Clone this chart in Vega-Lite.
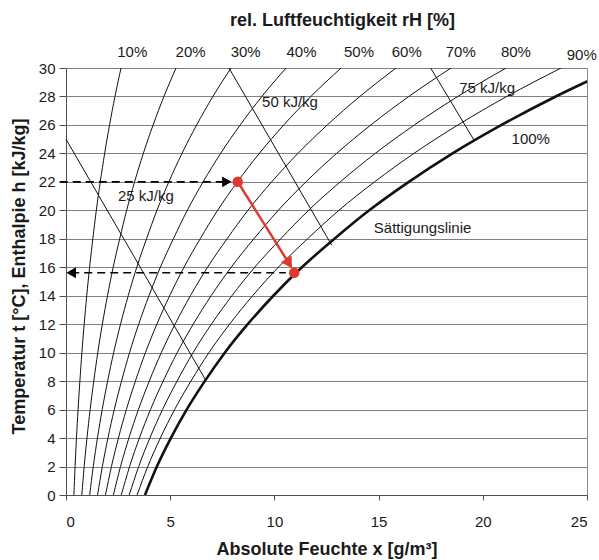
{
  "$schema": "https://vega.github.io/schema/vega-lite/v6.json",
  "width": 521,
  "height": 427,
  "autosize": {"type": "none"},
  "padding": {"left": 66, "top": 68, "right": 12, "bottom": 65},
  "background": "white",
  "title": {
    "text": "rel. Luftfeuchtigkeit rH [%]",
    "font": "Liberation Sans",
    "fontSize": 18,
    "fontWeight": "bold",
    "color": "#1a1a1a",
    "anchor": "middle",
    "frame": "group",
    "baseline": "alphabetic",
    "offset": 1,
    "dx": 16
  },
  "datasets": {
    "rh": [
      {"rh": "10%", "t": 0, "x": 0.379}, {"rh": "10%", "t": 2, "x": 0.436}, {"rh": "10%", "t": 4, "x": 0.503}, {"rh": "10%", "t": 6, "x": 0.579},
      {"rh": "10%", "t": 8, "x": 0.666}, {"rh": "10%", "t": 10, "x": 0.762}, {"rh": "10%", "t": 12, "x": 0.872}, {"rh": "10%", "t": 14, "x": 0.995},
      {"rh": "10%", "t": 16, "x": 1.132}, {"rh": "10%", "t": 18, "x": 1.288}, {"rh": "10%", "t": 20, "x": 1.455}, {"rh": "10%", "t": 22, "x": 1.645},
      {"rh": "10%", "t": 24, "x": 1.855}, {"rh": "10%", "t": 26, "x": 2.09}, {"rh": "10%", "t": 28, "x": 2.35}, {"rh": "10%", "t": 30, "x": 2.64},

      {"rh": "20%", "t": 0, "x": 0.758}, {"rh": "20%", "t": 2, "x": 0.872}, {"rh": "20%", "t": 4, "x": 1.006}, {"rh": "20%", "t": 6, "x": 1.158},
      {"rh": "20%", "t": 8, "x": 1.332}, {"rh": "20%", "t": 10, "x": 1.524}, {"rh": "20%", "t": 12, "x": 1.744}, {"rh": "20%", "t": 14, "x": 1.99},
      {"rh": "20%", "t": 16, "x": 2.264}, {"rh": "20%", "t": 18, "x": 2.576}, {"rh": "20%", "t": 20, "x": 2.91}, {"rh": "20%", "t": 22, "x": 3.29},
      {"rh": "20%", "t": 24, "x": 3.71}, {"rh": "20%", "t": 26, "x": 4.18}, {"rh": "20%", "t": 28, "x": 4.7}, {"rh": "20%", "t": 30, "x": 5.28},

      {"rh": "30%", "t": 0, "x": 1.137}, {"rh": "30%", "t": 2, "x": 1.308}, {"rh": "30%", "t": 4, "x": 1.509}, {"rh": "30%", "t": 6, "x": 1.737},
      {"rh": "30%", "t": 8, "x": 1.998}, {"rh": "30%", "t": 10, "x": 2.286}, {"rh": "30%", "t": 12, "x": 2.616}, {"rh": "30%", "t": 14, "x": 2.985},
      {"rh": "30%", "t": 16, "x": 3.396}, {"rh": "30%", "t": 18, "x": 3.864}, {"rh": "30%", "t": 20, "x": 4.365}, {"rh": "30%", "t": 22, "x": 4.935},
      {"rh": "30%", "t": 24, "x": 5.565}, {"rh": "30%", "t": 26, "x": 6.27}, {"rh": "30%", "t": 28, "x": 7.05}, {"rh": "30%", "t": 30, "x": 7.92},

      {"rh": "40%", "t": 0, "x": 1.516}, {"rh": "40%", "t": 2, "x": 1.744}, {"rh": "40%", "t": 4, "x": 2.012}, {"rh": "40%", "t": 6, "x": 2.316},
      {"rh": "40%", "t": 8, "x": 2.664}, {"rh": "40%", "t": 10, "x": 3.048}, {"rh": "40%", "t": 12, "x": 3.488}, {"rh": "40%", "t": 14, "x": 3.98},
      {"rh": "40%", "t": 16, "x": 4.528}, {"rh": "40%", "t": 18, "x": 5.152}, {"rh": "40%", "t": 20, "x": 5.82}, {"rh": "40%", "t": 22, "x": 6.58},
      {"rh": "40%", "t": 24, "x": 7.42}, {"rh": "40%", "t": 26, "x": 8.36}, {"rh": "40%", "t": 28, "x": 9.4}, {"rh": "40%", "t": 30, "x": 10.56},

      {"rh": "50%", "t": 0, "x": 1.895}, {"rh": "50%", "t": 2, "x": 2.18}, {"rh": "50%", "t": 4, "x": 2.515}, {"rh": "50%", "t": 6, "x": 2.895},
      {"rh": "50%", "t": 8, "x": 3.33}, {"rh": "50%", "t": 10, "x": 3.81}, {"rh": "50%", "t": 12, "x": 4.36}, {"rh": "50%", "t": 14, "x": 4.975},
      {"rh": "50%", "t": 16, "x": 5.66}, {"rh": "50%", "t": 18, "x": 6.44}, {"rh": "50%", "t": 20, "x": 7.275}, {"rh": "50%", "t": 22, "x": 8.225},
      {"rh": "50%", "t": 24, "x": 9.275}, {"rh": "50%", "t": 26, "x": 10.45}, {"rh": "50%", "t": 28, "x": 11.75}, {"rh": "50%", "t": 30, "x": 13.2},

      {"rh": "60%", "t": 0, "x": 2.274}, {"rh": "60%", "t": 2, "x": 2.616}, {"rh": "60%", "t": 4, "x": 3.018}, {"rh": "60%", "t": 6, "x": 3.474},
      {"rh": "60%", "t": 8, "x": 3.996}, {"rh": "60%", "t": 10, "x": 4.572}, {"rh": "60%", "t": 12, "x": 5.232}, {"rh": "60%", "t": 14, "x": 5.97},
      {"rh": "60%", "t": 16, "x": 6.792}, {"rh": "60%", "t": 18, "x": 7.728}, {"rh": "60%", "t": 20, "x": 8.73}, {"rh": "60%", "t": 22, "x": 9.87},
      {"rh": "60%", "t": 24, "x": 11.13}, {"rh": "60%", "t": 26, "x": 12.54}, {"rh": "60%", "t": 28, "x": 14.1}, {"rh": "60%", "t": 30, "x": 15.84},

      {"rh": "70%", "t": 0, "x": 2.653}, {"rh": "70%", "t": 2, "x": 3.052}, {"rh": "70%", "t": 4, "x": 3.521}, {"rh": "70%", "t": 6, "x": 4.053},
      {"rh": "70%", "t": 8, "x": 4.662}, {"rh": "70%", "t": 10, "x": 5.334}, {"rh": "70%", "t": 12, "x": 6.104}, {"rh": "70%", "t": 14, "x": 6.965},
      {"rh": "70%", "t": 16, "x": 7.924}, {"rh": "70%", "t": 18, "x": 9.016}, {"rh": "70%", "t": 20, "x": 10.185}, {"rh": "70%", "t": 22, "x": 11.515},
      {"rh": "70%", "t": 24, "x": 12.985}, {"rh": "70%", "t": 26, "x": 14.63}, {"rh": "70%", "t": 28, "x": 16.45}, {"rh": "70%", "t": 30, "x": 18.48},

      {"rh": "80%", "t": 0, "x": 3.032}, {"rh": "80%", "t": 2, "x": 3.488}, {"rh": "80%", "t": 4, "x": 4.024}, {"rh": "80%", "t": 6, "x": 4.632},
      {"rh": "80%", "t": 8, "x": 5.328}, {"rh": "80%", "t": 10, "x": 6.096}, {"rh": "80%", "t": 12, "x": 6.976}, {"rh": "80%", "t": 14, "x": 7.96},
      {"rh": "80%", "t": 16, "x": 9.056}, {"rh": "80%", "t": 18, "x": 10.304}, {"rh": "80%", "t": 20, "x": 11.64}, {"rh": "80%", "t": 22, "x": 13.16},
      {"rh": "80%", "t": 24, "x": 14.84}, {"rh": "80%", "t": 26, "x": 16.72}, {"rh": "80%", "t": 28, "x": 18.8}, {"rh": "80%", "t": 30, "x": 21.12},

      {"rh": "90%", "t": 0, "x": 3.411}, {"rh": "90%", "t": 2, "x": 3.924}, {"rh": "90%", "t": 4, "x": 4.527}, {"rh": "90%", "t": 6, "x": 5.211},
      {"rh": "90%", "t": 8, "x": 5.994}, {"rh": "90%", "t": 10, "x": 6.858}, {"rh": "90%", "t": 12, "x": 7.848}, {"rh": "90%", "t": 14, "x": 8.955},
      {"rh": "90%", "t": 16, "x": 10.188}, {"rh": "90%", "t": 18, "x": 11.592}, {"rh": "90%", "t": 20, "x": 13.095}, {"rh": "90%", "t": 22, "x": 14.805},
      {"rh": "90%", "t": 24, "x": 16.695}, {"rh": "90%", "t": 26, "x": 18.81}, {"rh": "90%", "t": 28, "x": 21.15}, {"rh": "90%", "t": 30, "x": 23.76},

      {"rh": "100%", "t": 0, "x": 3.79}, {"rh": "100%", "t": 2, "x": 4.36}, {"rh": "100%", "t": 4, "x": 5.03}, {"rh": "100%", "t": 6, "x": 5.79},
      {"rh": "100%", "t": 8, "x": 6.66}, {"rh": "100%", "t": 10, "x": 7.62}, {"rh": "100%", "t": 12, "x": 8.72}, {"rh": "100%", "t": 14, "x": 9.95},
      {"rh": "100%", "t": 16, "x": 11.32}, {"rh": "100%", "t": 18, "x": 12.88}, {"rh": "100%", "t": 20, "x": 14.55}, {"rh": "100%", "t": 22, "x": 16.45},
      {"rh": "100%", "t": 24, "x": 18.55}, {"rh": "100%", "t": 26, "x": 20.9}, {"rh": "100%", "t": 28, "x": 23.5}, {"rh": "100%", "t": 30, "x": 26.4}
    ],
    "enthalpy": [
      {"h": "25 kJ/kg", "x": 0, "t": 25.0}, {"h": "25 kJ/kg", "x": 6.7, "t": 8.08},
      {"h": "50 kJ/kg", "x": 7.82, "t": 30}, {"h": "50 kJ/kg", "x": 12.75, "t": 17.55},
      {"h": "75 kJ/kg", "x": 17.5, "t": 30}, {"h": "75 kJ/kg", "x": 19.57, "t": 24.95}
    ],
    "guides": [
      {"guide": "Zuluft", "x": -0.3, "t": 22.0}, {"guide": "Zuluft", "x": 7.72, "t": 22.0},
      {"guide": "Taupunkt", "x": 10.55, "t": 15.62}, {"guide": "Taupunkt", "x": 0.25, "t": 15.62}
    ],
    "heads": [
      {"dir": "rechts", "x": 7.72, "t": 22.0},
      {"dir": "links", "x": 0.25, "t": 15.62}
    ],
    "process": [
      {"x": 8.24, "t": 22.0}, {"x": 10.66, "t": 16.37}
    ],
    "processHead": [
      {"x": 10.66, "t": 16.37}
    ],
    "states": [
      {"state": "Ausgangszustand", "x": 8.24, "t": 22.0},
      {"state": "Sättigung", "x": 10.95, "t": 15.62}
    ],
    "labels": [
      {"label": "10%", "x": 3.18, "t": 31.15},
      {"label": "20%", "x": 5.98, "t": 31.15},
      {"label": "30%", "x": 8.62, "t": 31.15},
      {"label": "40%", "x": 11.3, "t": 31.15},
      {"label": "50%", "x": 14.06, "t": 31.15},
      {"label": "60%", "x": 16.35, "t": 31.15},
      {"label": "70%", "x": 18.94, "t": 31.15},
      {"label": "80%", "x": 21.59, "t": 31.15},
      {"label": "90%", "x": 24.75, "t": 30.91},
      {"label": "25 kJ/kg", "x": 3.83, "t": 21.03},
      {"label": "50 kJ/kg", "x": 10.75, "t": 27.59},
      {"label": "75 kJ/kg", "x": 20.21, "t": 28.57},
      {"label": "100%", "x": 22.3, "t": 24.99},
      {"label": "Sättigungslinie", "x": 17.11, "t": 18.78}
    ]
  },
  "config": {
    "font": "Liberation Sans",
    "view": {"stroke": "#8c8c8c", "strokeWidth": 1},
    "axis": {
      "labelFont": "Liberation Sans",
      "titleFont": "Liberation Sans",
      "labelFontSize": 15,
      "labelColor": "#1a1a1a",
      "titleFontSize": 18,
      "titleFontWeight": "bold",
      "titleColor": "#1a1a1a",
      "domainColor": "#505050",
      "tickColor": "#505050"
    }
  },
  "encoding": {
    "x": {
      "field": "x",
      "type": "quantitative",
      "scale": {"domain": [0, 25], "nice": false, "zero": false},
      "axis": {
        "title": "Absolute Feuchte x [g/m³]",
        "values": [0, 5, 10, 15, 20, 25],
        "grid": false,
        "tickSize": 5,
        "labelPadding": 14,
        "titleBaseline": "alphabetic",
        "titleY": 59
      }
    },
    "y": {
      "field": "t",
      "type": "quantitative",
      "scale": {"domain": [0, 30], "nice": false, "zero": false},
      "axis": {
        "title": "Temperatur t [°C], Enthalpie h [kJ/kg]",
        "values": [0, 2, 4, 6, 8, 10, 12, 14, 16, 18, 20, 22, 24, 26, 28, 30],
        "grid": true,
        "gridColor": "#808080",
        "gridWidth": 1,
        "gridOpacity": 1,
        "tickSize": 7,
        "labelPadding": 4,
        "titleBaseline": "alphabetic",
        "titleX": -42,
        "titleY": 208
      }
    }
  },
  "layer": [
    {
      "data": {"name": "rh"},
      "mark": {"type": "line", "interpolate": "monotone", "clip": true, "color": "#111111"},
      "encoding": {
        "detail": {"field": "rh", "type": "nominal"},
        "order": {"field": "t", "type": "quantitative"},
        "strokeWidth": {"condition": {"test": "datum.rh === '100%'", "value": 2.6}, "value": 1}
      }
    },
    {
      "data": {"name": "enthalpy"},
      "mark": {"type": "line", "color": "#111111", "strokeWidth": 1},
      "encoding": {
        "detail": {"field": "h", "type": "nominal"},
        "order": {"field": "t", "type": "quantitative"}
      }
    },
    {
      "data": {"name": "guides"},
      "mark": {"type": "line", "color": "#000000", "strokeWidth": 1.6, "strokeDash": [8, 5]},
      "encoding": {
        "detail": {"field": "guide", "type": "nominal"}
      }
    },
    {
      "data": {"name": "heads"},
      "mark": {"type": "point", "filled": true, "color": "#000000", "size": 120, "opacity": 1},
      "encoding": {
        "shape": {
          "field": "dir",
          "type": "nominal",
          "scale": {"domain": ["rechts", "links"], "range": ["triangle-right", "triangle-left"]},
          "legend": null
        }
      }
    },
    {
      "data": {"name": "process"},
      "mark": {"type": "line", "color": "#e2372f", "strokeWidth": 2.5},
      "encoding": {}
    },
    {
      "data": {"name": "processHead"},
      "mark": {"type": "point", "shape": "triangle", "angle": 148, "filled": true, "color": "#e2372f", "size": 160, "opacity": 1},
      "encoding": {}
    },
    {
      "data": {"name": "states"},
      "mark": {"type": "point", "shape": "circle", "filled": true, "color": "#e2372f", "size": 110, "opacity": 1},
      "encoding": {}
    },
    {
      "data": {"name": "labels"},
      "mark": {"type": "text", "font": "Liberation Sans", "fontSize": 15, "color": "#1a1a1a", "align": "center", "baseline": "middle"},
      "encoding": {
        "text": {"field": "label", "type": "nominal"}
      }
    }
  ]
}
